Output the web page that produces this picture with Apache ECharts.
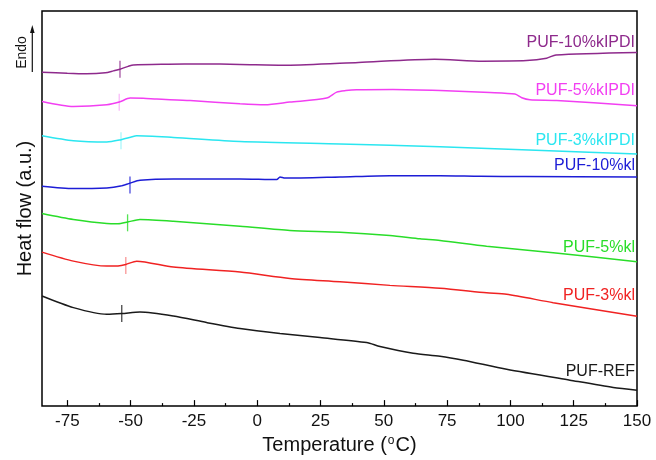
<!DOCTYPE html>
<html><head><meta charset="utf-8">
<script src="https://cdn.jsdelivr.net/npm/echarts@6/dist/echarts.min.js"></script>
<style>html,body{margin:0;padding:0;background:#fff}#c{width:656px;height:460px}</style>
</head><body><div id="c"></div>
<script>
// ---- data (temperature in °C, heat flow in arbitrary units) ----
const seriesNames = ['PUF-10%kIPDI','PUF-5%kIPDI','PUF-3%kIPDI','PUF-10%kl','PUF-5%kl','PUF-3%kl','PUF-REF'];
const seriesColors = ['#8e2a8c','#f23ff2','#2be6f0','#1d1dd6','#29dd29','#f02222','#1a1a1a'];
const tgColors = ['#8e2a8c','rgba(242,63,242,0.45)','rgba(43,230,240,0.5)','#1d1dd6','#29dd29','rgba(240,34,34,0.6)','#1a1a1a'];

const t10kIPDI = [-85,-75,-67.4,-60,-56.8,-54.2,-51,-48.9,-35,-22.6,-6.8,11.6,40,70,89,106.4,114.3,118,150];
const v10kIPDI = [334.7,333.5,333,334,336,337.7,340.5,342,342.7,343,342.5,341.7,344.5,347.7,345.7,346.3,348.7,352,354.5];

const t5kIPDI = [-85,-72.6,-59.4,-54.5,-50.2,-45,-39.7,-26.5,-6.8,3.1,12.9,27.4,31.4,35,39.3,53.6,72.2,91.9,101.8,104.5,107.7,118.3,150];
const v5kIPDI = [305.3,300.3,302,304.7,308.7,308.5,307.7,306.3,303,302,304.7,308.7,314.7,316.2,317,317.3,316.3,314.3,312.7,309,307,306.3,301];

const t3kIPDI = [-85,-72.6,-59.4,-53.8,-50,-47.6,-33.1,-6.8,32.7,72.2,110,150];
const v3kIPDI = [271,266,264.7,267,269.5,271,269.3,265.3,262.7,260,256.5,252.7];

const t10kl = [-85,-72.6,-59.4,-54,-50.25,-46.3,-33.1,-6.8,7.7,9,11,32.7,52.4,72.2,88,105.8,150];
const v10kl = [220.3,218,218.7,220.5,223.5,226.3,227.7,227.7,227,229.7,228.5,229.7,231,231,230.3,230,229.7];

const t5kl = [-85,-72.6,-59.4,-55,-51.2,-46.3,-33.1,-6.8,12.9,32.7,52.4,64.3,72.2,90.6,116.9,150];
const v5kl = [193,187,183,182.8,184.5,187,185.3,180.3,176,174.3,171,167.7,166,160.3,153.7,144.7];

const t3kl = [-85,-72.6,-59.4,-55,-51.9,-47.6,-33.1,-6.8,12.9,32.7,52.4,72.2,90.6,98.5,116.9,150];
const v3kl = [154.3,145.3,140.3,140.5,142,145.3,139.3,134.3,128,124.7,121,118,113.5,112,103.7,90];

const tRef = [-85,-72.6,-59.4,-53.5,-46.3,-33.1,-20,-6.8,9,24.8,43.2,48.5,61.6,72.2,81.4,98.5,123.5,140.6,150];
const vRef = [110.3,98.7,92,92.7,94.3,90.3,83.7,77.7,72.7,68.7,63.7,59.7,53,50,46,37,26,18.7,16];

// glass transition markers (temperature, heat flow)
const tgTemps = [-54.2,-54.5,-53.8,-50.25,-51.2,-51.9,-53.5];
const tgValues = [337.5,304.5,266,221.7,183.7,141,92.7];

const majorTicks = [-75,-50,-25,0,25,50,75,100,125,150];
const minorTicks = [-62.5,-37.5,-12.5,12.5,37.5,62.5,87.5,112.5,137.5];

// ---- build ----
const temps = [t10kIPDI,t5kIPDI,t3kIPDI,t10kl,t5kl,t3kl,tRef];
const vals = [v10kIPDI,v5kIPDI,v3kIPDI,v10kl,v5kl,v3kl,vRef];
const labelDy = [-9.5,-15.5,-13.3,-11.3,-14.3,-20.3,-19];
const FONT = '"Liberation Sans", Arial, sans-serif';

const chart = echarts.init(document.getElementById('c'), null, {renderer:'canvas'});

const lineSeries = seriesNames.map((n,i)=>({
  name:n, type:'line', xAxisIndex:0, yAxisIndex:0,
  data: temps[i].map((t,k)=>[t, vals[i][k]]),
  showSymbol:false, smooth:0.25,
  lineStyle:{color:seriesColors[i], width:1.5},
  itemStyle:{color:seriesColors[i]},
  z:3, silent:true
}));

const tgSeries = {
  type:'scatter', xAxisIndex:0, yAxisIndex:0,
  symbol:'rect', symbolSize:[1.3,17], silent:true, z:4,
  data: tgTemps.map((t,i)=>({value:[t, tgValues[i]], itemStyle:{color:tgColors[i]}}))
};

chart.setOption({
  animation:false,
  backgroundColor:'#fff',
  grid:{left:42, right:19, top:11, bottom:53, show:true, borderColor:'#000', borderWidth:1.5, backgroundColor:'transparent'},
  xAxis:[{
    type:'value', min:-85, max:150, position:'bottom',
    axisLine:{show:false},
    axisTick:{show:true, inside:true, length:6, customValues:majorTicks, lineStyle:{color:'#000', width:1.2}},
    axisLabel:{show:true, customValues:majorTicks, fontSize:17, color:'#111', margin:7, fontFamily:FONT},
    splitLine:{show:false},
    name:'Temperature ({sup|o}C)', nameLocation:'middle', nameGap:27,
    nameTextStyle:{fontSize:20, color:'#111', fontFamily:FONT,
      rich:{sup:{fontSize:12, color:'#111', fontFamily:FONT, verticalAlign:'top', padding:[0,1,0,1]}}}
  },{
    type:'value', min:-85, max:150, position:'bottom',
    axisLine:{show:false},
    axisTick:{show:true, inside:true, length:3, customValues:minorTicks, lineStyle:{color:'#000', width:1.2}},
    axisLabel:{show:false}, splitLine:{show:false}
  }],
  yAxis:[{
    type:'value', min:0, max:396,
    axisLine:{show:false}, axisTick:{show:false}, axisLabel:{show:false}, splitLine:{show:false},
    name:'Heat flow (a.u.)', nameLocation:'middle', nameGap:7,
    nameTextStyle:{fontSize:20, color:'#111', fontFamily:FONT}
  }],
  series: lineSeries.concat([tgSeries])
});

// series labels placed at the right end of each curve
const g = [];
seriesNames.forEach((n,i)=>{
  const last = temps[i].length-1;
  const p = chart.convertToPixel({xAxisIndex:0, yAxisIndex:0}, [temps[i][last], vals[i][last]]);
  g.push({type:'text', x:p[0]-2, y:p[1]+labelDy[i], z:10,
    style:{text:n, fill:seriesColors[i], font:'16px '+FONT, align:'right', verticalAlign:'middle'}});
});
// Endo arrow
g.push({type:'text', x:22, y:52.5, rotation:Math.PI/2, z:10,
  style:{text:'Endo', fill:'#111', font:'14px '+FONT, align:'center', verticalAlign:'middle'}});
g.push({type:'line', z:10, shape:{x1:32.3, y1:72, x2:32.3, y2:31}, style:{stroke:'#111', lineWidth:1.2}});
g.push({type:'polygon', z:10, shape:{points:[[32.3,25],[30,33],[34.6,33]]}, style:{fill:'#111'}});
chart.setOption({graphic:g});
</script>
</body></html>
